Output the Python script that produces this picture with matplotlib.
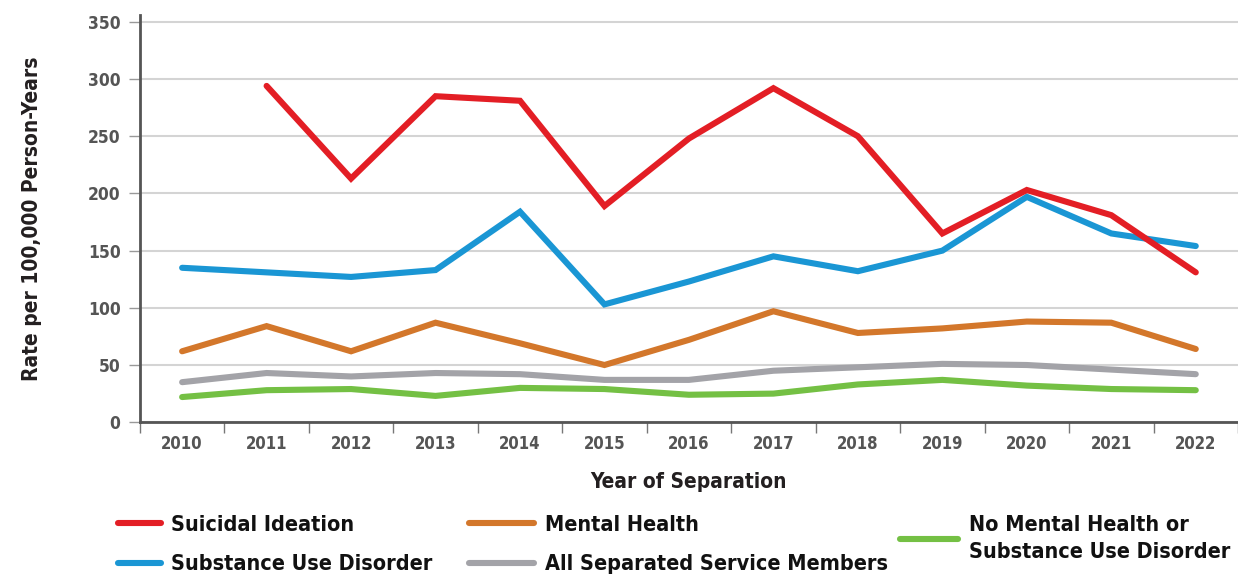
import matplotlib.pyplot as plt
import numpy as np

plt.rcParams['font.family'] = ['DejaVu Sans']
plt.rcParams['font.stretch'] = 'condensed'
plt.rcParams['font.weight'] = 'bold'
plt.rcParams['axes.labelweight'] = 'bold'

years = [2010, 2011, 2012, 2013, 2014, 2015, 2016, 2017, 2018, 2019, 2020, 2021, 2022]
suicidal = [np.nan, 294, 213, 285, 281, 189, 248, 292, 250, 165, 203, 181, 131]
substance = [135, 131, 127, 133, 184, 103, 123, 145, 132, 150, 197, 165, 154]
mental = [62, 84, 62, 87, 69, 50, 72, 97, 78, 82, 88, 87, 64]
all_sep = [35, 43, 40, 43, 42, 37, 37, 45, 48, 51, 50, 46, 42]
no_mh = [22, 28, 29, 23, 30, 29, 24, 25, 33, 37, 32, 29, 28]

colors = {'red': '#e31e25', 'blue': '#1a96d4', 'orange': '#d3772b',
          'gray': '#a3a3a8', 'green': '#74c044'}

fig = plt.figure(figsize=(12.38, 5.76), dpi=100)
ax = fig.add_axes([0.113, 0.267, 0.887, 0.707])

x = np.arange(len(years))
lw = 4.4
style = dict(lw=lw, solid_capstyle='round', solid_joinstyle='miter')
l_si, = ax.plot(x, suicidal, color=colors['red'], zorder=5, **style)
l_sud, = ax.plot(x, substance, color=colors['blue'], zorder=4, **style)
l_mh, = ax.plot(x, mental, color=colors['orange'], zorder=4, **style)
l_all, = ax.plot(x, all_sep, color=colors['gray'], zorder=4, **style)
l_no, = ax.plot(x, no_mh, color=colors['green'], zorder=4, **style)

ax.set_xlim(-0.47, 12.33)
ax.set_ylim(0, 356)
ax.set_yticks(range(0, 351, 50))
ax.yaxis.grid(True, color='#d4d4d4', lw=1.5)
ax.set_axisbelow(True)

ax.set_xticks(x)
ax.set_xticklabels([str(y) for y in years])
ax.set_xticks(np.arange(-0.5, 12.6, 1), minor=True)
ax.tick_params(axis='x', which='major', length=0, pad=9, labelsize=12, labelcolor='#555555')
ax.tick_params(axis='x', which='minor', length=8, width=1, color='#777777', direction='out')
ax.tick_params(axis='y', length=8, width=1, color='#999999', pad=6, labelsize=12.5, labelcolor='#555555')

for s in ['top', 'right']:
    ax.spines[s].set_visible(False)
for s in ['left', 'bottom']:
    ax.spines[s].set_color('#555555')
    ax.spines[s].set_linewidth(2)

ax.set_xlabel('Year of Separation', fontsize=15, color='#231f20', labelpad=14)
ax.set_ylabel('Rate per 100,000 Person-Years', fontsize=15, color='#231f20', labelpad=33)

leg_kw = dict(frameon=False, fontsize=15.5, handlelength=2.0, handletextpad=0.5,
              labelspacing=0.9, loc='upper left', borderpad=0, borderaxespad=0)
leg1 = fig.legend([l_si, l_sud], ['Suicidal Ideation', 'Substance Use Disorder'],
                  bbox_to_anchor=(0.095, 0.106), **leg_kw)
leg2 = fig.legend([l_mh, l_all], ['Mental Health', 'All Separated Service Members'],
                  bbox_to_anchor=(0.379, 0.106), **dict(leg_kw, handlelength=3.0))
leg3 = fig.legend([l_no], ['No Mental Health or\nSubstance Use Disorder'],
                  bbox_to_anchor=(0.727, 0.106), **dict(leg_kw, handlelength=2.7))
for leg in (leg1, leg2, leg3):
    for t in leg.get_texts():
        t.set_color('#111111')
for t in leg3.get_texts():
    t.set_linespacing(1.45)

fig.savefig('out.png', dpi=100)
